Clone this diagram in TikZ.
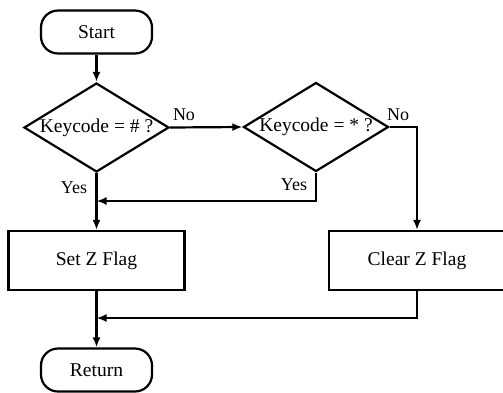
\documentclass[tikz,border=0pt]{standalone}
\usepackage{fontspec}
\setmainfont{Liberation Serif}
\usetikzlibrary{shapes.geometric,arrows.meta}
\begin{document}
\begin{tikzpicture}[x=1pt,y=-1pt,
  line width=2.2pt,
  every node/.style={font=\fontsize{19.5}{22}\selectfont},
  term/.style={draw,rectangle,rounded corners=17pt,minimum width=111pt,minimum height=43pt,inner sep=0pt},
  dec/.style={draw,diamond,minimum width=145pt,minimum height=89pt,inner sep=0pt},
  dectext/.style={inner sep=0pt,font=\fontsize{19.5}{22}\selectfont},
  proc/.style={draw,rectangle,minimum width=176pt,minimum height=59pt,inner sep=0pt},
  lbl/.style={inner sep=0pt,font=\fontsize{18}{20}\selectfont},
  arr/.style={-{Latex[length=10pt,width=8pt]}}
]
\useasboundingbox (0,0) rectangle (503,392);
\node[term] (start) at (96.5,32) {Start};
\node[dec,label={[dectext]center:Keycode = \# ?}] (d1) at (96.5,127.5) {};
\node[dec,label={[dectext]center:Keycode = * ?}] (d2) at (316,127) {};
\node[proc] (set) at (96.5,260.5) {Set Z Flag};
\node[proc] (clear) at (417,260.5) {Clear Z Flag};
\node[term] (ret) at (96.5,370) {Return};
\coordinate (j1) at (96.5,201);
\coordinate (j2) at (96.5,318);
\node[lbl] (no1) at (184,115) {No};
\node[lbl] (no2) at (398,115) {No};
\node[lbl] (yes1) at (74,188) {Yes};
\node[lbl] (yes2) at (294,185) {Yes};
\draw[arr] (start) -- (d1);
\draw[arr] (d1.east) -- (d2.west);
\draw[arr] (d1.south) -- (set.north);
\draw[arr] (d2.south) |- (j1);
\draw[arr] (d2.east) -| (clear.north);
\draw[arr] (set.south) -- (ret.north);
\draw[arr] (clear.south) |- (j2);
\end{tikzpicture}
\end{document}
